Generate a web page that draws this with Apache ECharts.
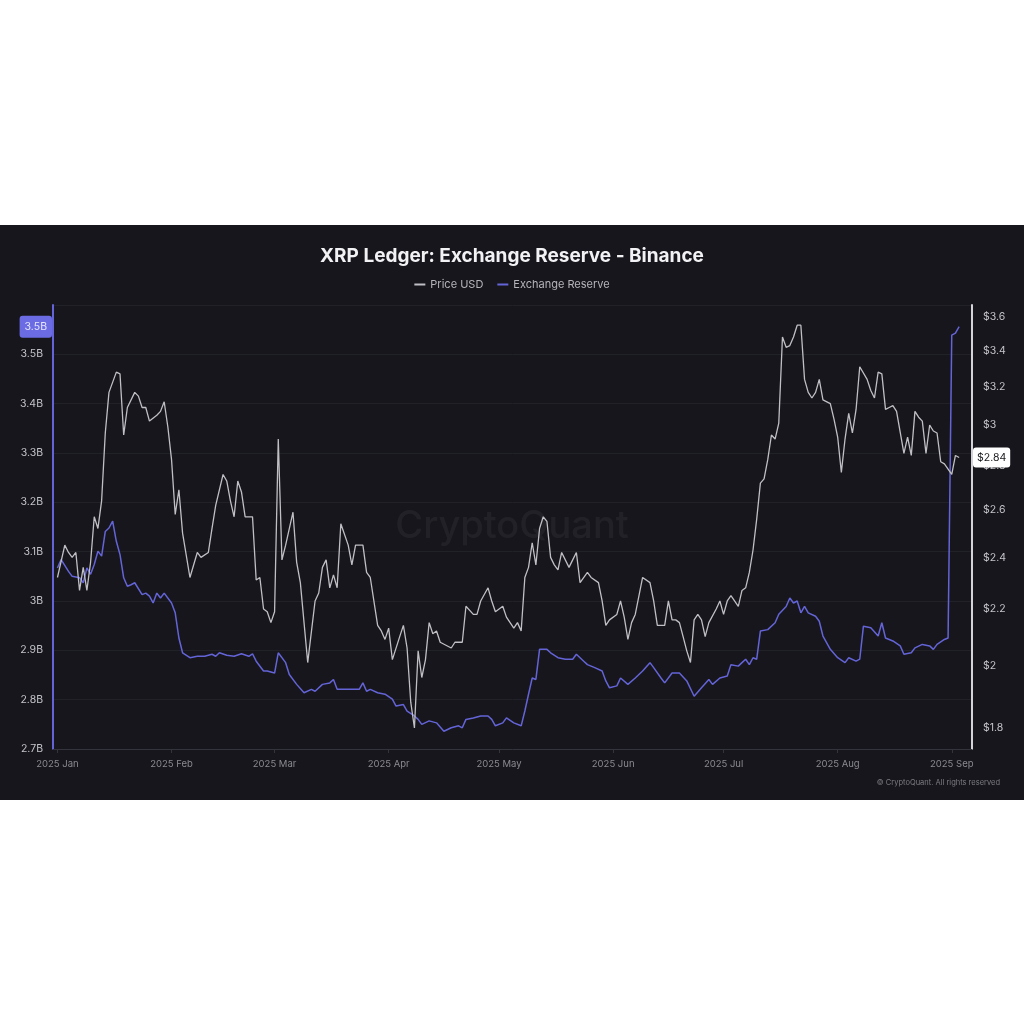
<!DOCTYPE html>
<html>
<head>
<meta charset="utf-8">
<title>XRP Ledger: Exchange Reserve - Binance</title>
<script src="https://cdn.jsdelivr.net/npm/echarts@6/dist/echarts.min.js"></script>
<style>
    html, body { margin: 0; padding: 0; background: #ffffff; }
    #chart { position: absolute; left: 0; top: 225px; width: 1024px; height: 575px; }
</style>
</head>
<body>
<div id="chart"></div>
<script>
// XRP price (USD)
var priceDates = [
    '2025-01-01', '2025-01-03', '2025-01-04', '2025-01-05', '2025-01-06', '2025-01-07', '2025-01-08', '2025-01-09',
    '2025-01-10', '2025-01-11', '2025-01-12', '2025-01-13', '2025-01-14', '2025-01-15', '2025-01-17', '2025-01-18',
    '2025-01-19', '2025-01-20', '2025-01-22', '2025-01-23', '2025-01-24', '2025-01-25', '2025-01-26', '2025-01-28',
    '2025-01-29', '2025-01-30', '2025-01-31', '2025-02-01', '2025-02-02', '2025-02-03', '2025-02-04', '2025-02-06',
    '2025-02-08', '2025-02-09', '2025-02-11', '2025-02-12', '2025-02-13', '2025-02-15', '2025-02-16', '2025-02-17',
    '2025-02-18', '2025-02-19', '2025-02-20', '2025-02-21', '2025-02-23', '2025-02-24', '2025-02-25', '2025-02-26',
    '2025-02-27', '2025-02-28', '2025-03-01', '2025-03-02', '2025-03-03', '2025-03-04', '2025-03-06', '2025-03-07',
    '2025-03-08', '2025-03-10', '2025-03-12', '2025-03-13', '2025-03-14', '2025-03-15', '2025-03-16', '2025-03-17',
    '2025-03-18', '2025-03-19', '2025-03-21', '2025-03-22', '2025-03-23', '2025-03-25', '2025-03-26', '2025-03-27',
    '2025-03-29', '2025-03-30', '2025-03-31', '2025-04-01', '2025-04-02', '2025-04-04', '2025-04-05', '2025-04-06',
    '2025-04-07', '2025-04-08', '2025-04-09', '2025-04-10', '2025-04-11', '2025-04-12', '2025-04-13', '2025-04-14',
    '2025-04-15', '2025-04-18', '2025-04-19', '2025-04-21', '2025-04-22', '2025-04-24', '2025-04-25', '2025-04-26',
    '2025-04-28', '2025-04-29', '2025-04-30', '2025-05-02', '2025-05-03', '2025-05-05', '2025-05-06', '2025-05-07',
    '2025-05-08', '2025-05-09', '2025-05-10', '2025-05-11', '2025-05-12', '2025-05-13', '2025-05-14', '2025-05-15',
    '2025-05-16', '2025-05-17', '2025-05-18', '2025-05-20', '2025-05-21', '2025-05-22', '2025-05-23', '2025-05-25',
    '2025-05-26', '2025-05-28', '2025-05-29', '2025-05-30', '2025-05-31', '2025-06-02', '2025-06-03', '2025-06-04',
    '2025-06-05', '2025-06-06', '2025-06-07', '2025-06-09', '2025-06-11', '2025-06-12', '2025-06-13', '2025-06-15',
    '2025-06-16', '2025-06-17', '2025-06-18', '2025-06-19', '2025-06-20', '2025-06-21', '2025-06-22', '2025-06-23',
    '2025-06-24', '2025-06-25', '2025-06-26', '2025-06-27', '2025-06-29', '2025-06-30', '2025-07-01', '2025-07-02',
    '2025-07-03', '2025-07-05', '2025-07-06', '2025-07-07', '2025-07-08', '2025-07-09', '2025-07-10', '2025-07-11',
    '2025-07-12', '2025-07-13', '2025-07-14', '2025-07-15', '2025-07-16', '2025-07-17', '2025-07-18', '2025-07-19',
    '2025-07-20', '2025-07-21', '2025-07-22', '2025-07-23', '2025-07-24', '2025-07-25', '2025-07-26', '2025-07-27',
    '2025-07-28', '2025-07-30', '2025-07-31', '2025-08-01', '2025-08-02', '2025-08-03', '2025-08-04', '2025-08-05',
    '2025-08-06', '2025-08-07', '2025-08-09', '2025-08-10', '2025-08-11', '2025-08-12', '2025-08-13', '2025-08-14',
    '2025-08-15', '2025-08-16', '2025-08-17', '2025-08-19', '2025-08-20', '2025-08-21', '2025-08-22', '2025-08-23',
    '2025-08-24', '2025-08-25', '2025-08-26', '2025-08-27', '2025-08-28', '2025-08-29', '2025-08-30', '2025-09-01',
    '2025-09-02', '2025-09-03'
];
var priceUsd = [
    2.32, 2.45, 2.42, 2.40, 2.42, 2.27, 2.36, 2.27,
    2.38, 2.57, 2.52, 2.64, 2.96, 3.17, 3.28, 3.27,
    2.95, 3.09, 3.17, 3.15, 3.09, 3.09, 3.02, 3.05,
    3.07, 3.12, 2.99, 2.83, 2.58, 2.69, 2.50, 2.32,
    2.42, 2.40, 2.42, 2.52, 2.62, 2.76, 2.73, 2.64,
    2.57, 2.73, 2.68, 2.57, 2.57, 2.31, 2.32, 2.20,
    2.19, 2.15, 2.19, 2.93, 2.39, 2.45, 2.59, 2.38,
    2.30, 2.01, 2.23, 2.26, 2.36, 2.39, 2.28, 2.33,
    2.28, 2.54, 2.45, 2.37, 2.45, 2.45, 2.34, 2.32,
    2.14, 2.12, 2.09, 2.13, 2.02, 2.10, 2.14, 2.06,
    1.88, 1.80, 2.05, 1.96, 2.02, 2.15, 2.11, 2.12,
    2.08, 2.06, 2.08, 2.08, 2.21, 2.18, 2.18, 2.23,
    2.28, 2.23, 2.19, 2.21, 2.17, 2.13, 2.15, 2.12,
    2.32, 2.36, 2.46, 2.37, 2.52, 2.57, 2.55, 2.40,
    2.37, 2.35, 2.42, 2.36, 2.39, 2.42, 2.30, 2.34,
    2.32, 2.30, 2.23, 2.14, 2.16, 2.18, 2.23, 2.17,
    2.09, 2.15, 2.18, 2.32, 2.30, 2.23, 2.14, 2.14,
    2.23, 2.16, 2.16, 2.15, 2.10, 2.05, 2.01, 2.16,
    2.18, 2.16, 2.10, 2.15, 2.20, 2.23, 2.18, 2.23,
    2.25, 2.21, 2.27, 2.28, 2.34, 2.43, 2.56, 2.72,
    2.74, 2.83, 2.95, 2.93, 3.01, 3.48, 3.42, 3.43,
    3.48, 3.55, 3.55, 3.24, 3.17, 3.14, 3.17, 3.24,
    3.13, 3.11, 3.03, 2.94, 2.77, 2.93, 3.06, 2.96,
    3.08, 3.31, 3.24, 3.18, 3.14, 3.28, 3.27, 3.08,
    3.09, 3.10, 3.07, 2.86, 2.94, 2.85, 3.07, 3.04,
    3.02, 2.86, 3.00, 2.97, 2.96, 2.82, 2.81, 2.76,
    2.85, 2.84
];

// XRP held on Binance, in billions
var reserveDates = [
    '2025-01-01', '2025-01-02', '2025-01-04', '2025-01-05', '2025-01-07', '2025-01-08', '2025-01-09', '2025-01-10',
    '2025-01-11', '2025-01-12', '2025-01-13', '2025-01-14', '2025-01-15', '2025-01-16', '2025-01-17', '2025-01-18',
    '2025-01-19', '2025-01-20', '2025-01-21', '2025-01-22', '2025-01-24', '2025-01-25', '2025-01-26', '2025-01-27',
    '2025-01-28', '2025-01-29', '2025-01-30', '2025-02-01', '2025-02-02', '2025-02-03', '2025-02-04', '2025-02-06',
    '2025-02-08', '2025-02-10', '2025-02-12', '2025-02-13', '2025-02-14', '2025-02-16', '2025-02-18', '2025-02-20',
    '2025-02-22', '2025-02-23', '2025-02-24', '2025-02-26', '2025-02-27', '2025-03-01', '2025-03-02', '2025-03-04',
    '2025-03-05', '2025-03-07', '2025-03-09', '2025-03-11', '2025-03-12', '2025-03-14', '2025-03-16', '2025-03-17',
    '2025-03-18', '2025-03-21', '2025-03-24', '2025-03-25', '2025-03-26', '2025-03-27', '2025-03-29', '2025-03-31',
    '2025-04-02', '2025-04-03', '2025-04-05', '2025-04-06', '2025-04-08', '2025-04-09', '2025-04-10', '2025-04-12',
    '2025-04-14', '2025-04-16', '2025-04-18', '2025-04-20', '2025-04-21', '2025-04-22', '2025-04-24', '2025-04-26',
    '2025-04-28', '2025-04-29', '2025-04-30', '2025-05-02', '2025-05-03', '2025-05-05', '2025-05-07', '2025-05-08',
    '2025-05-09', '2025-05-10', '2025-05-11', '2025-05-12', '2025-05-14', '2025-05-15', '2025-05-17', '2025-05-19',
    '2025-05-21', '2025-05-22', '2025-05-24', '2025-05-25', '2025-05-27', '2025-05-29', '2025-05-30', '2025-05-31',
    '2025-06-02', '2025-06-03', '2025-06-05', '2025-06-07', '2025-06-09', '2025-06-11', '2025-06-12', '2025-06-14',
    '2025-06-15', '2025-06-17', '2025-06-19', '2025-06-21', '2025-06-23', '2025-06-25', '2025-06-27', '2025-06-28',
    '2025-06-30', '2025-07-02', '2025-07-03', '2025-07-05', '2025-07-06', '2025-07-07', '2025-07-08', '2025-07-09',
    '2025-07-10', '2025-07-11', '2025-07-13', '2025-07-15', '2025-07-16', '2025-07-18', '2025-07-19', '2025-07-20',
    '2025-07-21', '2025-07-22', '2025-07-23', '2025-07-24', '2025-07-26', '2025-07-27', '2025-07-28', '2025-07-30',
    '2025-08-01', '2025-08-03', '2025-08-04', '2025-08-06', '2025-08-07', '2025-08-08', '2025-08-10', '2025-08-12',
    '2025-08-13', '2025-08-14', '2025-08-16', '2025-08-18', '2025-08-19', '2025-08-21', '2025-08-22', '2025-08-24',
    '2025-08-26', '2025-08-27', '2025-08-28', '2025-08-30', '2025-08-31', '2025-09-01', '2025-09-02', '2025-09-03'
];
var reserveBn = [
    3.067, 3.084, 3.060, 3.050, 3.047, 3.037, 3.067, 3.054,
    3.074, 3.101, 3.091, 3.141, 3.148, 3.162, 3.121, 3.094,
    3.047, 3.030, 3.033, 3.037, 3.013, 3.016, 3.010, 2.996,
    3.016, 3.006, 3.016, 2.996, 2.976, 2.925, 2.895, 2.885,
    2.888, 2.888, 2.892, 2.888, 2.895, 2.890, 2.888, 2.893,
    2.888, 2.893, 2.878, 2.858, 2.858, 2.854, 2.895, 2.875,
    2.851, 2.831, 2.814, 2.821, 2.817, 2.831, 2.834, 2.841,
    2.821, 2.821, 2.821, 2.834, 2.817, 2.821, 2.814, 2.811,
    2.801, 2.787, 2.790, 2.777, 2.767, 2.760, 2.750, 2.757,
    2.753, 2.736, 2.743, 2.747, 2.743, 2.760, 2.763, 2.767,
    2.767, 2.760, 2.747, 2.753, 2.763, 2.753, 2.747, 2.777,
    2.811, 2.844, 2.841, 2.902, 2.902, 2.895, 2.885, 2.882,
    2.882, 2.892, 2.878, 2.871, 2.865, 2.858, 2.838, 2.824,
    2.828, 2.844, 2.831, 2.844, 2.858, 2.875, 2.865, 2.844,
    2.834, 2.854, 2.854, 2.838, 2.807, 2.824, 2.841, 2.831,
    2.844, 2.848, 2.871, 2.868, 2.875, 2.882, 2.871, 2.885,
    2.882, 2.939, 2.942, 2.956, 2.973, 2.989, 3.006, 2.996,
    3.000, 2.976, 2.989, 2.976, 2.969, 2.959, 2.929, 2.902,
    2.885, 2.875, 2.885, 2.878, 2.882, 2.949, 2.946, 2.929,
    2.956, 2.925, 2.919, 2.909, 2.892, 2.895, 2.905, 2.912,
    2.909, 2.902, 2.912, 2.922, 2.925, 3.539, 3.543, 3.556
];

var priceTicks = [1.8, 2, 2.2, 2.4, 2.6, 2.8, 3, 3.2, 3.4, 3.6];

// the price axis is logarithmic: prices go in as ln(price) on a value axis
var priceRange = [1.7374, 3.673];
var reserveRange = [2.7, 3.6];
var dateRange = ['2024-12-30T19:00:00', '2025-09-06T12:00:00'];

var DAY = 24 * 3600 * 1000;
var PRICE_COLOR = '#bfbfc4';
var RESERVE_COLOR = '#6464d8';
var FONT = 'Inter, "Noto Sans", sans-serif';

var buildSeriesData = function (dates, values, fn) {
    var out = [];
    for (var i = 0; i < dates.length; i++) {
        out.push([dates[i], fn ? fn(values[i]) : values[i]]);
    }
    return out;
};

var formatBn = function (v) {
    return (Math.round(v * 10) / 10) + 'B';
};

var formatUsd = function (v) {
    return '$' + (Math.round(Math.exp(v) * 10) / 10);
};

var lastReserve = reserveBn[reserveBn.length - 1];
var lastPrice = priceUsd[priceUsd.length - 1];

var chart = echarts.init(document.getElementById('chart'), null, {renderer: 'canvas'});

var option = {
    backgroundColor: '#16161c',
    animation: false,
    textStyle: {fontFamily: FONT},
    title: {
        text: 'XRP Ledger: Exchange Reserve - Binance',
        left: 'center',
        top: 17,
        textStyle: {color: '#f2f2f4', fontSize: 19, fontWeight: 'bold', fontFamily: FONT}
    },
    legend: {
        top: 49,
        left: 'center',
        itemGap: 14,
        itemWidth: 11,
        itemHeight: 2,
        icon: 'rect',
        textStyle: {color: '#b4b4ba', fontSize: 11, fontFamily: FONT},
        data: ['Price USD', 'Exchange Reserve']
    },
    grid: {left: 53, right: 52, top: 80, bottom: 51, containLabel: false},
    xAxis: {
        type: 'time',
        min: dateRange[0],
        max: dateRange[1],
        minInterval: 28 * DAY,
        maxInterval: 31 * DAY,
        axisLine: {show: true, lineStyle: {color: '#34343c', width: 1}},
        axisTick: {show: true, length: 4, lineStyle: {color: '#34343c'}},
        splitLine: {show: false},
        axisLabel: {
            color: '#8a8a90',
            fontSize: 9.5,
            margin: 10,
            hideOverlap: false,
            formatter: function (v) {
                return echarts.time.format(v, '{yyyy} {MMM}', false);
            }
        }
    },
    yAxis: [
        {
            type: 'value',
            position: 'left',
            min: reserveRange[0],
            max: reserveRange[1],
            interval: 0.1,
            axisLine: {show: true, lineStyle: {color: RESERVE_COLOR, width: 2}},
            axisTick: {show: false},
            splitLine: {show: true, lineStyle: {color: '#212128', width: 1}},
            axisLabel: {
                color: '#c4c4ca',
                fontSize: 10.5,
                margin: 10,
                showMaxLabel: false,
                formatter: formatBn
            },
            axisPointer: {
                show: true,
                type: 'none',
                status: 'show',
                value: lastReserve,
                triggerTooltip: false,
                label: {
                    show: true,
                    formatter: function (p) {
                        return (Math.floor(p.value * 10) / 10) + 'B';
                    },
                    backgroundColor: '#6b6be4',
                    color: '#e6e6ff',
                    fontSize: 10.5,
                    fontFamily: FONT,
                    padding: [6, 5, 5, 5],
                    margin: 1
                }
            }
        },
        {
            type: 'value',
            position: 'right',
            min: Math.log(priceRange[0]),
            max: Math.log(priceRange[1]),
            axisLine: {show: true, lineStyle: {color: '#d4d4d8', width: 2}},
            axisTick: {show: false},
            splitLine: {show: false},
            axisLabel: {
                color: '#c4c4ca',
                fontSize: 10.5,
                margin: 11,
                customValues: priceTicks.map(function (t) { return Math.log(t); }),
                formatter: formatUsd
            },
            axisPointer: {
                show: true,
                type: 'none',
                status: 'show',
                value: Math.log(lastPrice),
                triggerTooltip: false,
                label: {
                    show: true,
                    formatter: function (p) {
                        return '$' + Math.exp(p.value).toFixed(2);
                    },
                    backgroundColor: '#ffffff',
                    color: '#18181e',
                    fontSize: 10.5,
                    fontFamily: FONT,
                    padding: [5, 4, 4, 4],
                    margin: 1
                }
            }
        }
    ],
    graphic: [
        {
            type: 'text',
            left: 'center',
            top: 283,
            z: 0,
            style: {
                text: 'CryptoQuant',
                fill: 'rgba(255,255,255,0.05)',
                font: '500 38px ' + FONT
            }
        },
        {
            type: 'text',
            right: 24,
            top: 554,
            style: {
                text: '\u00a9 CryptoQuant. All rights reserved',
                fill: '#7c7c82',
                font: '7.5px ' + FONT
            }
        }
    ],
    series: [
        {
            name: 'Price USD',
            type: 'line',
            yAxisIndex: 1,
            showSymbol: false,
            symbol: 'none',
            z: 3,
            lineStyle: {color: PRICE_COLOR, width: 1.3},
            itemStyle: {color: PRICE_COLOR},
            data: buildSeriesData(priceDates, priceUsd, Math.log)
        },
        {
            name: 'Exchange Reserve',
            type: 'line',
            yAxisIndex: 0,
            showSymbol: false,
            symbol: 'none',
            z: 2,
            lineStyle: {color: RESERVE_COLOR, width: 1.5},
            itemStyle: {color: RESERVE_COLOR},
            data: buildSeriesData(reserveDates, reserveBn)
        }
    ]
};

chart.setOption(option);
</script>
</body>
</html>
